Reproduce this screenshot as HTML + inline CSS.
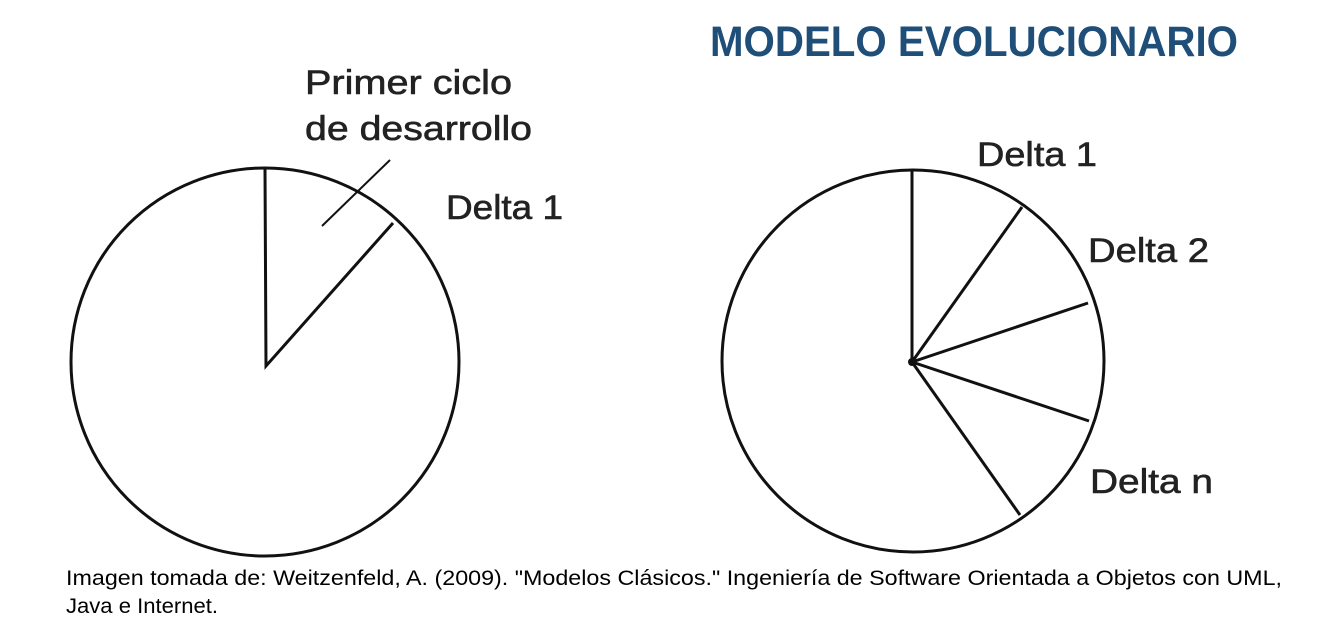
<!DOCTYPE html>
<html><head><meta charset="utf-8"><style>
html,body{margin:0;padding:0;background:#fff;}
svg{display:block;}
</style></head><body>
<svg width="1338" height="636" viewBox="0 0 1338 636" xmlns="http://www.w3.org/2000/svg">
<rect width="1338" height="636" fill="#fff"/>
<text x="710" y="56" font-family="Liberation Sans, sans-serif" font-weight="bold" font-size="43" fill="#1f4e79" textLength="528" lengthAdjust="spacingAndGlyphs">MODELO EVOLUCIONARIO</text>
<g fill="none" stroke="#111" stroke-width="3">
<circle cx="265" cy="362" r="194"/>
<polyline points="265,169 266,366 393,223"/>
<line x1="322" y1="226" x2="390" y2="160" stroke-width="2"/>
<circle cx="913" cy="361" r="191"/>
<line x1="912" y1="362" x2="912" y2="170"/>
<line x1="912" y1="362" x2="1022" y2="207"/>
<line x1="912" y1="362" x2="1088" y2="303"/>
<line x1="912" y1="362" x2="1089" y2="421"/>
<line x1="912" y1="362" x2="1020" y2="515"/>
</g>
<circle cx="912" cy="362" r="4" fill="#111"/>
<g font-family="Liberation Sans, sans-serif" font-size="34" fill="#222" stroke="#222" stroke-width="0.6">
<text x="305" y="94" textLength="207" lengthAdjust="spacingAndGlyphs">Primer ciclo</text>
<text x="305" y="140" textLength="227" lengthAdjust="spacingAndGlyphs">de desarrollo</text>
<text x="446" y="219" textLength="117" lengthAdjust="spacingAndGlyphs">Delta 1</text>
<text x="977" y="166" textLength="120" lengthAdjust="spacingAndGlyphs">Delta 1</text>
<text x="1088" y="262" textLength="121" lengthAdjust="spacingAndGlyphs">Delta 2</text>
<text x="1090" y="493" textLength="123" lengthAdjust="spacingAndGlyphs">Delta n</text>
</g>
<g font-family="Liberation Sans, sans-serif" font-size="21" fill="#000">
<text x="66" y="585" textLength="1216" lengthAdjust="spacingAndGlyphs">Imagen tomada de: Weitzenfeld, A. (2009). "Modelos Clásicos." Ingeniería de Software Orientada a Objetos con UML,</text>
<text x="66" y="613" textLength="152" lengthAdjust="spacingAndGlyphs">Java e Internet.</text>
</g>
</svg>
</body></html>
